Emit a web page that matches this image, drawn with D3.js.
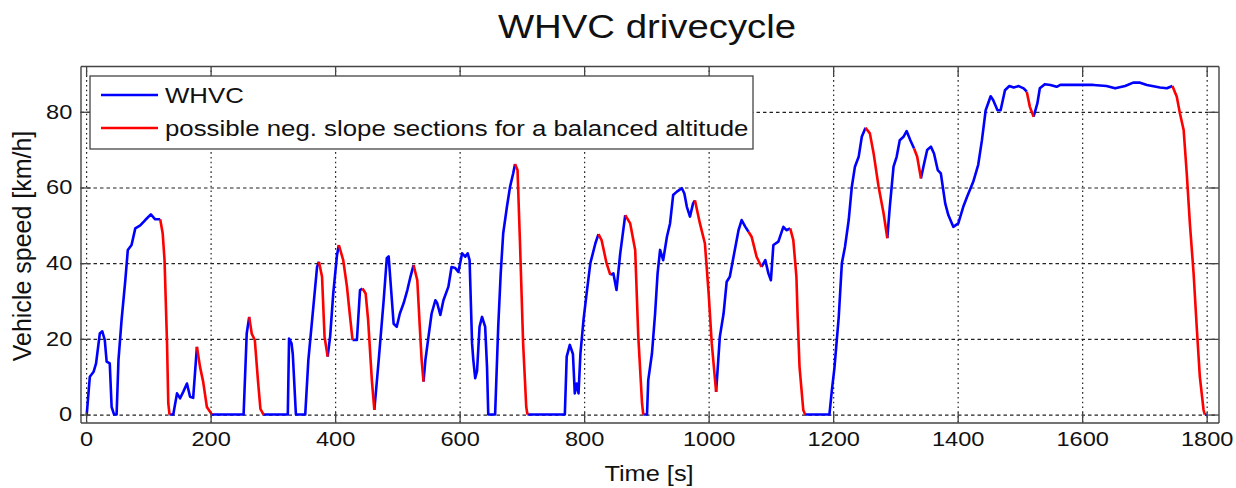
<!DOCTYPE html>
<html><head><meta charset="utf-8">
<script src="https://cdn.jsdelivr.net/npm/d3@7"></script>
<style>
body{margin:0;background:#fff}
svg{display:block}
text{font-family:"Liberation Sans",Arial,Helvetica,sans-serif;fill:#111}
</style>
</head><body>
<svg id="chart" width="1236" height="488"></svg>
<script>
// ---- data ----
const timeS = [0,1,6,12,16,22,26,30,33,38,41,45,49,52,57,63,67,73,79,87,95,104,111,119,123,126,130,132,134,140,146,151,156,162,167,172,178,183,188,194,202,253,258,262,266,271,276,280,285,324,326,330,332,337,352,357,364,371,374,379,383,388,392,397,403,406,413,419,424,428,435,440,444,449,453,459,463,470,478,483,486,494,499,504,510,516,521,526,532,536,539,542,545,550,555,561,564,569,574,582,587,593,598,604,609,613,616,620,622,625,628,632,636,641,644,646,657,662,666,670,676,681,686,689,693,697,702,707,709,769,772,777,782,785,788,791,794,799,804,810,818,823,828,836,842,847,852,858,866,874,882,887,893,895,901,903,909,914,918,922,927,933,938,943,949,957,961,965,970,975,978,986,994,1000,1005,1012,1018,1024,1029,1034,1040,1048,1053,1059,1064,1069,1077,1085,1091,1096,1100,1104,1112,1120,1125,1131,1136,1141,1143,1146,1152,1155,1194,1198,1202,1209,1214,1219,1225,1230,1235,1241,1246,1252,1259,1265,1273,1281,1287,1291,1297,1302,1307,1313,1318,1324,1330,1335,1341,1345,1351,1357,1362,1368,1373,1380,1385,1393,1401,1409,1415,1425,1433,1439,1445,1453,1457,1464,1469,1476,1483,1490,1498,1506,1511,1516,1522,1528,1532,1540,1549,1559,1565,1591,1618,1639,1653,1669,1682,1693,1704,1725,1736,1745,1752,1757,1763,1768,1773,1779,1784,1789,1795,1797,1800];
const speedKmh = [0,0,10,11.3,13.5,21.4,22,19.7,14,13.5,2,0,0,14.4,25,35.5,43.5,44.8,49.2,50,51.4,52.9,51.6,51.6,47.9,40.8,18.8,3,0,0,5.6,4.3,6,8.2,4.7,4.4,17.9,12.6,8.7,2,0,0,21.4,25.8,21.4,19.7,9.1,1.5,0,0,20.1,18.8,16,0,0,14.4,26.7,39,40.4,36.4,20.6,15.3,20.6,32,42.1,44.8,40.8,33.8,25.8,19.7,19.7,32.9,33.3,32,25,9.1,1.2,14.4,30.2,41.3,41.8,24,23.2,26.7,29.4,32.9,36.4,39.5,35.5,23.2,14.4,8.7,14.4,20.6,26.7,30.2,29.4,26.3,30.2,33.8,39,38.7,37.7,42.6,41.7,42.6,40.8,18.8,14.4,9.6,11.5,23.2,25.8,23.2,12.6,0,0,23.2,37.3,47.9,54.9,60.2,63.7,66.2,64.6,45.2,18.8,2,0,0,15.3,18.4,16,5.6,8.2,5.6,16,25,32,40,45.2,47.7,46.1,40,36.9,37.3,32.9,42.6,52.7,50.5,43.5,20.6,3,0,0,9.1,16.2,26.7,37.3,43.5,40.8,47,50.5,58,58.9,59.8,58.4,54.9,52.3,55.8,56.6,50.5,45.2,32,18.8,6,20.6,26.7,35.1,36.4,41.7,48.7,51.4,49.6,48.3,47,41.7,39,40.8,37.3,35.5,44.8,45.7,49.6,48.7,49.2,46.1,36.4,25.8,12.6,1.2,0,0,6.5,12.2,25.8,40,44.3,51.4,60.2,65.5,68.1,73.4,75.8,74.3,69,60.2,53.2,46.6,54.9,65.5,68.1,72.5,73.4,74.9,72.5,70.3,68.1,62.4,65.5,69.9,70.8,69,64.6,63.7,55.8,52.7,49.6,50.5,54.9,57.5,61.5,66,72.5,80.4,84.1,83.1,80.4,80.4,85.7,86.8,86.4,86.8,86.2,85.3,81.3,78.7,82.2,86.2,87.3,87.1,86.6,87.1,87.1,87.1,86.8,86.2,86.8,87.7,87.7,87.1,86.4,86.2,86.8,84,79.6,75.2,63.7,50.5,37.3,23.2,10,1.2,0,0];
// time intervals [start, end] drawn in red
const negSlopeSections = [[119,134],[178,202],[262,285],[374,388],[406,428],[444,463],[526,542],[689,709],[823,842],[866,895],[978,1012],[1064,1085],[1131,1155],[1252,1287],[1330,1341],[1511,1522],[1745,1797]];
const xTicks = [0,200,400,600,800,1000,1200,1400,1600,1800];
const yTicks = [0,20,40,60,80];
const titleText = "WHVC drivecycle";
const xLabelText = "Time [s]";
const yLabelText = "Vehicle speed [km/h]";
const legendLabels = ["WHVC", "possible neg. slope sections for a balanced altitude"];
const seriesColors = ["#0000ff", "#ff0000"];

// ---- layout ----
const box = {left: 80.5, right: 1218.5, top: 66, bottom: 422.5};
const sx = 1.18; // horizontal text stretch seen in the reference
const svg = d3.select("#chart");

const x = d3.scaleLinear().domain([-9, 1819]).range([box.left, box.right]);
const y = d3.scaleLinear().domain([-2.1, 92.1]).range([box.bottom, box.top]);
const H = box.bottom - box.top, W = box.right - box.left;

svg.append("rect").attr("width",1236).attr("height",488).attr("fill","#fff");

// grid
const gridX = svg.append("g").attr("transform",`translate(0,${box.bottom})`)
  .call(d3.axisBottom(x).tickValues(xTicks).tickSize(-H).tickFormat(""));
gridX.select(".domain").remove();
gridX.selectAll("line").attr("stroke","#222").attr("stroke-width",1.2).attr("stroke-dasharray","1.6,3.2");
const gridY = svg.append("g").attr("transform",`translate(${box.left},0)`)
  .call(d3.axisLeft(y).tickValues(yTicks).tickSize(-W).tickFormat(""));
gridY.select(".domain").remove();
gridY.selectAll("line").attr("stroke","#222").attr("stroke-width",1.2).attr("stroke-dasharray","3.5,3");

// lines: blue pieces between the red sections, red pieces on the sections
const pts = timeS.map((t,i)=>({t, v: speedKmh[i]}));
const line = d3.line().x(d=>x(d.t)).y(d=>y(d.v));
const blueSections = [];
let prev = timeS[0];
negSlopeSections.forEach(s => { blueSections.push([prev, s[0]]); prev = s[1]; });
blueSections.push([prev, timeS[timeS.length-1]]);
const pieces = blueSections.map(s => ({s, c: seriesColors[0]}))
  .concat(negSlopeSections.map(s => ({s, c: seriesColors[1]})));
svg.append("g").selectAll("path").data(pieces).join("path")
  .attr("d", d => line(pts.filter(p => p.t >= d.s[0] && p.t <= d.s[1])))
  .attr("fill","none").attr("stroke", d => d.c).attr("stroke-width",2.6)
  .attr("stroke-linejoin","round").attr("stroke-linecap","butt");

// axes (frame with inward ticks on all four sides)
function styleAxis(g){
  g.select(".domain").attr("stroke","#444").attr("stroke-width",1.4);
  g.selectAll(".tick line").attr("stroke","#444").attr("stroke-width",1.3);
}
const axB = svg.append("g").attr("transform",`translate(0,${box.bottom})`)
  .call(d3.axisBottom(x).tickValues(xTicks).tickSize(-10).tickSizeOuter(0).tickPadding(9).tickFormat(d3.format("d")));
styleAxis(axB);
axB.selectAll(".tick text").attr("font-size",20).attr("transform",`scale(${sx},1)`)
  .style("font-family",'"Liberation Sans",Arial,sans-serif').attr("fill","#111");
const axT = svg.append("g").attr("transform",`translate(0,${box.top})`)
  .call(d3.axisTop(x).tickValues(xTicks).tickSize(-10).tickSizeOuter(0).tickFormat(""));
styleAxis(axT);
const axL = svg.append("g").attr("transform",`translate(${box.left},0)`)
  .call(d3.axisLeft(y).tickValues(yTicks).tickSize(-10).tickSizeOuter(0).tickPadding(7).tickFormat(d3.format("d")));
styleAxis(axL);
axL.selectAll(".tick text").attr("font-size",20).attr("transform",`scale(${sx},1)`)
  .style("font-family",'"Liberation Sans",Arial,sans-serif').attr("fill","#111");
const axR = svg.append("g").attr("transform",`translate(${box.right},0)`)
  .call(d3.axisRight(y).tickValues(yTicks).tickSize(-10).tickSizeOuter(0).tickFormat(""));
styleAxis(axR);

// title and axis labels
svg.append("text").attr("transform",`translate(647,38) scale(${sx},1)`)
  .attr("text-anchor","middle").attr("font-size",32.5).text(titleText);
svg.append("text").attr("transform",`translate(649,481) scale(${sx},1)`)
  .attr("text-anchor","middle").attr("font-size",21.5).text(xLabelText);
svg.append("text").attr("transform",`translate(31,246) scale(1.06,1) rotate(-90)`)
  .attr("text-anchor","middle").attr("font-size",25).text(yLabelText);

// legend
const lg = svg.append("g");
lg.append("rect").attr("x",90).attr("y",76).attr("width",663).attr("height",73)
  .attr("fill","#fff").attr("stroke","#444").attr("stroke-width",1.3);
const legY = [95, 128];
legendLabels.forEach((lab,i)=>{
  lg.append("line").attr("x1",101).attr("x2",158).attr("y1",legY[i]).attr("y2",legY[i])
    .attr("stroke",seriesColors[i]).attr("stroke-width",2.6);
  lg.append("text").attr("transform",`translate(165,${legY[i]+7.8}) scale(1.2,1)`)
    .attr("font-size",21.5).text(lab);
});
</script>
</body></html>
